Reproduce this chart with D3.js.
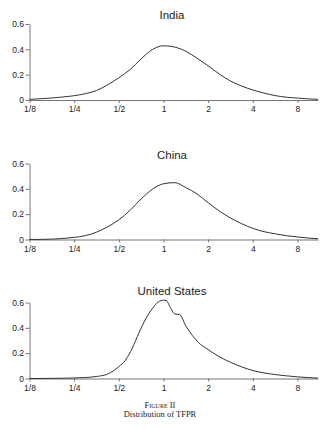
<!DOCTYPE html>
<html><head><meta charset="utf-8">
<script src="https://cdn.jsdelivr.net/npm/d3@7"></script>
<style>
html,body{margin:0;padding:0;background:#fff;}
svg{display:block;}
</style></head>
<body>
<script>
// TFPR grid (log2 steps of 0.25) shared by India and China
const tfpr = [0.125,0.149,0.177,0.210,0.25,0.297,0.354,0.420,0.5,0.595,0.707,0.841,1,1.189,1.414,1.682,2,2.378,2.828,3.364,4,4.757,5.657,6.727,8,9.514,11];
const indiaDensity = [0.005,0.010,0.016,0.024,0.034,0.050,0.075,0.120,0.175,0.240,0.325,0.398,0.428,0.418,0.385,0.330,0.270,0.205,0.150,0.110,0.079,0.055,0.035,0.022,0.015,0.009,0.005];
const chinaDensity = [0.000,0.001,0.003,0.008,0.017,0.030,0.058,0.100,0.155,0.230,0.320,0.397,0.440,0.449,0.410,0.360,0.290,0.225,0.170,0.125,0.088,0.062,0.045,0.030,0.020,0.011,0.006];
// United States: own grid (finer around the peak)
const usTfpr = [0.125,0.177,0.25,0.297,0.354,0.420,0.5,0.555,0.616,0.683,0.758,0.841,0.920,1,1.043,1.102,1.189,1.283,1.414,1.569,1.717,2,2.378,2.828,3.364,4,4.757,5.657,6.727,8,9.514,11];
const usDensity = [0.000,0.001,0.004,0.008,0.016,0.035,0.093,0.145,0.240,0.360,0.470,0.552,0.603,0.618,0.616,0.570,0.510,0.505,0.415,0.338,0.285,0.228,0.172,0.128,0.092,0.063,0.044,0.031,0.021,0.013,0.007,0.003];

const panelTitles = ["India","China","United States"];
const xTicks = [0.125,0.25,0.5,1,2,4,8];
const xTickLabels = ["1/8","1/4","1/2","1","2","4","8"];
const yTicks = [0,0.2,0.4,0.6];
const yTickLabels = ["0","0.2","0.4","0.6"];
const captionLines = ["Figure II","Distribution of TFPR"];

const panels = [
  {title: panelTitles[0], xs: tfpr, ys: indiaDensity, zero: 100, titleY: 19},
  {title: panelTitles[1], xs: tfpr, ys: chinaDensity, zero: 239.5, titleY: 159},
  {title: panelTitles[2], xs: usTfpr, ys: usDensity, zero: 378.5, titleY: 295}
];

const W = 329, H = 427;
const svg = d3.select("body").append("svg").attr("width", W).attr("height", H);

const x = d3.scaleLog().base(2).domain([0.125, 11]).range([29.5, 318]);
const sans = "'Liberation Sans', Arial, Helvetica, sans-serif";
const axisColor = "#666";
const textColor = "#222";

panels.forEach(p => {
  const y = d3.scaleLinear().domain([0, 0.6]).range([p.zero, p.zero - 76]);
  const g = svg.append("g");

  const xa = g.append("g").attr("transform", `translate(0,${p.zero})`)
    .call(d3.axisBottom(x).tickValues(xTicks).tickFormat((d,i) => xTickLabels[i])
      .tickSize(3).tickSizeOuter(0).tickPadding(3));
  const ya = g.append("g").attr("transform", `translate(${x.range()[0]},0)`)
    .call(d3.axisLeft(y).tickValues(yTicks).tickFormat((d,i) => yTickLabels[i])
      .tickSize(4).tickSizeOuter(0).tickPadding(1.5));
  [xa, ya].forEach(a => {
    a.selectAll("path, line").attr("stroke", axisColor).attr("stroke-width", 0.9);
    a.selectAll("text").attr("font-family", sans).attr("font-size", 8.5).attr("fill", textColor);
  });

  g.append("text").attr("x", 172).attr("y", p.titleY)
    .attr("text-anchor", "middle").attr("font-family", sans).attr("font-size", 11.5)
    .attr("fill", textColor).text(p.title);

  const pts = p.xs.map((v, i) => [v, p.ys[i]]);
  g.append("path").datum(pts)
    .attr("fill", "none").attr("stroke", "#333").attr("stroke-width", 1)
    .attr("d", d3.line().x(d => x(d[0])).y(d => y(d[1])).curve(d3.curveMonotoneX));
});

const serif = "'Liberation Serif', 'Times New Roman', serif";
svg.append("text").attr("x", 160).attr("y", 407.5).attr("text-anchor", "middle")
  .attr("font-family", serif).attr("font-size", 8.5).attr("fill", textColor)
  .style("font-variant", "small-caps").text(captionLines[0]);
svg.append("text").attr("x", 160).attr("y", 417).attr("text-anchor", "middle")
  .attr("font-family", serif).attr("font-size", 8.5).attr("fill", textColor)
  .text(captionLines[1]);
</script>
</body></html>
